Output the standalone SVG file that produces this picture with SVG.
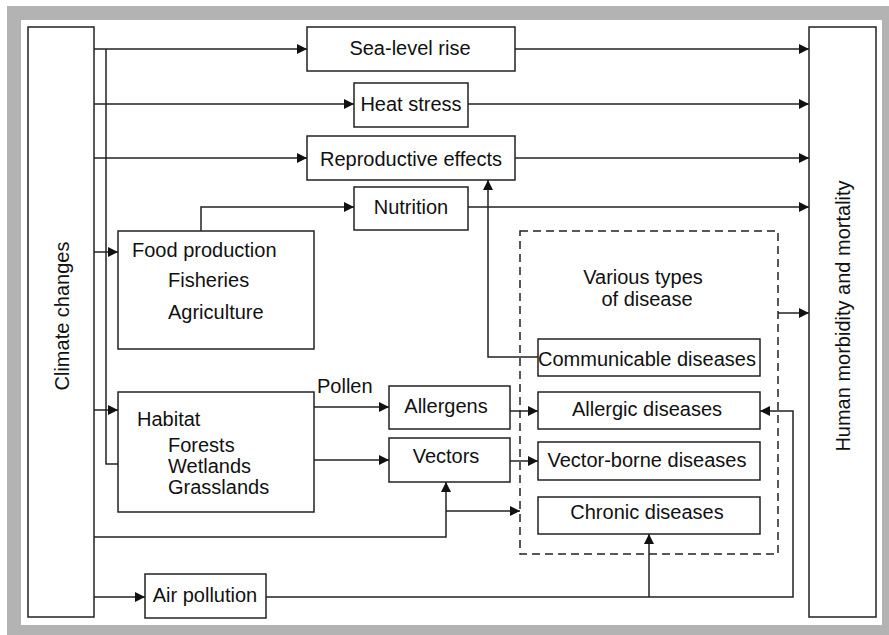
<svg xmlns="http://www.w3.org/2000/svg" width="889" height="635" viewBox="0 0 889 635">
  <style>
    .box { fill: #fff; stroke: #222; stroke-width: 1.5; }
    .dash { fill: none; stroke: #222; stroke-width: 1.5; stroke-dasharray: 8 5; }
    .ln { fill: none; stroke: #222; stroke-width: 1.5; }
    .arr { marker-end: url(#ah); }
    text { font-family: "Liberation Sans", Arial, sans-serif; font-size: 20px; fill: #111; }
    .c { text-anchor: middle; }
  </style>
  <defs>
    <marker id="ah" markerUnits="userSpaceOnUse" markerWidth="10" markerHeight="10" refX="10" refY="5" orient="auto">
      <path d="M0,0 L10,5 L0,10 z" fill="#111"/>
    </marker>
  </defs>

  <!-- frame -->
  <rect x="0" y="0" width="889" height="635" fill="#fff"/>
  <rect x="7" y="6" width="882" height="629" fill="#b3b3b3"/>
  <rect x="21" y="20" width="861" height="605" fill="#fff"/>

  <!-- connectors -->
  <g id="connectors">
    <!-- from climate changes -->
    <path class="ln arr" d="M94,49 H307"/>
    <path class="ln arr" d="M94,104 H354"/>
    <path class="ln arr" d="M94,158 H307"/>
    <path class="ln arr" d="M94,252 H118"/>
    <path class="ln arr" d="M94,410 H118"/>
    <path class="ln arr" d="M106,49 V464 H138"/>
    <path class="ln arr" d="M94,537 H446 V482"/>
    <path class="ln arr" d="M446,511 H520"/>
    <path class="ln arr" d="M94,597 H145"/>
    <!-- to human morbidity and mortality -->
    <path class="ln arr" d="M515,49 H809"/>
    <path class="ln arr" d="M468,104 H809"/>
    <path class="ln arr" d="M515,158 H809"/>
    <path class="ln arr" d="M468,207 H809"/>
    <path class="ln arr" d="M778,313 H809"/>
    <!-- food production to nutrition -->
    <path class="ln arr" d="M201,231 V207 H354"/>
    <!-- habitat outputs -->
    <path class="ln arr" d="M314,407 H389"/>
    <path class="ln arr" d="M314,460 H389"/>
    <path class="ln arr" d="M510,411 H538"/>
    <path class="ln arr" d="M510,461 H538"/>
    <!-- communicable diseases to reproductive effects -->
    <path class="ln arr" d="M538,357 H488 V180"/>
    <!-- air pollution -->
    <path class="ln arr" d="M266,597 H793 V411 H760"/>
    <path class="ln arr" d="M649,597 V534"/>
  </g>

  <g id="climate">
    <rect class="box" x="28" y="27" width="66" height="590"/>
    <text class="c" transform="translate(69,316) rotate(-90)">Climate changes</text>
  </g>
  <g id="human">
    <rect class="box" x="809" y="27" width="67" height="590"/>
    <text class="c" transform="translate(850,316) rotate(-90)">Human morbidity and mortality</text>
  </g>

  <g id="sealevel">
    <rect class="box" x="307" y="27" width="208" height="44"/>
    <text class="c" x="410" y="55">Sea-level rise</text>
  </g>
  <g id="heat">
    <rect class="box" x="354" y="83" width="114" height="44"/>
    <text class="c" x="411" y="111">Heat stress</text>
  </g>
  <g id="repro">
    <rect class="box" x="307" y="136" width="208" height="44"/>
    <text class="c" x="411" y="166">Reproductive effects</text>
  </g>
  <g id="nutrition">
    <rect class="box" x="354" y="187" width="114" height="43"/>
    <text class="c" x="411" y="214">Nutrition</text>
  </g>

  <g id="food">
    <rect class="box" x="118" y="231" width="196" height="118"/>
    <text x="132" y="257">Food production</text>
    <text x="168" y="287">Fisheries</text>
    <text x="168" y="319">Agriculture</text>
  </g>
  <g id="habitat">
    <rect class="box" x="118" y="392" width="196" height="120"/>
    <text x="137" y="426">Habitat</text>
    <text x="168" y="452">Forests</text>
    <text x="168" y="473">Wetlands</text>
    <text x="168" y="494">Grasslands</text>
  </g>
  <g id="pollen">
    <text x="317" y="393">Pollen</text>
  </g>
  <g id="allergens">
    <rect class="box" x="389" y="386" width="121" height="43"/>
    <text class="c" x="446" y="413">Allergens</text>
  </g>
  <g id="vectors">
    <rect class="box" x="389" y="438" width="121" height="44"/>
    <text class="c" x="446" y="463">Vectors</text>
  </g>
  <g id="airpollution">
    <rect class="box" x="145" y="574" width="121" height="44"/>
    <text class="c" x="205" y="602">Air pollution</text>
  </g>

  <g id="diseases">
    <rect class="dash" x="520" y="231" width="258" height="323"/>
    <text class="c" x="643" y="284">Various types</text>
    <text class="c" x="647" y="306">of disease</text>
  </g>
  <g id="communicable">
    <rect class="box" x="538" y="339" width="222" height="37"/>
    <text class="c" x="647" y="366">Communicable diseases</text>
  </g>
  <g id="allergic">
    <rect class="box" x="538" y="392" width="222" height="37"/>
    <text class="c" x="647" y="416">Allergic diseases</text>
  </g>
  <g id="vectorborne">
    <rect class="box" x="538" y="442" width="222" height="38"/>
    <text class="c" x="647" y="467">Vector-borne diseases</text>
  </g>
  <g id="chronic">
    <rect class="box" x="538" y="497" width="222" height="37"/>
    <text class="c" x="647" y="519">Chronic diseases</text>
  </g>
</svg>
